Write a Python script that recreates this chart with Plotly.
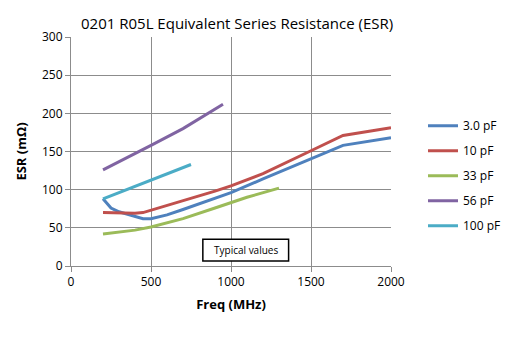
import plotly.graph_objects as go

title = "0201 R05L Equivalent Series Resistance (ESR)"
series_names = ["3.0 pF", "10 pF", "33 pF", "56 pF", "100 pF"]
colors = ["#4F81BD", "#C0504D", "#9BBB59", "#8064A2", "#4BACC6"]

f_3p0 = [200, 250, 300, 350, 400, 450, 500, 600, 700, 800, 900, 1000, 1200, 1400, 1500, 1700, 2000]
esr_3p0 = [88, 76, 71, 68, 65, 62, 62, 67, 74, 81, 88, 96, 114, 132, 141, 158, 168]

f_10 = [200, 400, 450, 500, 600, 700, 800, 900, 1000, 1200, 1500, 1700, 2000]
esr_10 = [70, 69, 70, 73, 79, 85, 91, 98, 105, 121, 151, 171, 181]

f_33 = [200, 400, 500, 700, 900, 1100, 1300]
esr_33 = [42, 47, 51, 62, 76, 90, 102]

f_56 = [200, 400, 500, 700, 950]
esr_56 = [126, 147, 158, 180, 212]

f_100 = [200, 400, 500, 750]
esr_100 = [88, 104, 112, 133]

xs = [f_3p0, f_10, f_33, f_56, f_100]
ys = [esr_3p0, esr_10, esr_33, esr_56, esr_100]

fig = go.Figure()
for name, c, x, y in zip(series_names, colors, xs, ys):
    fig.add_trace(go.Scatter(x=x, y=y, name=name, mode="lines",
                             line=dict(color=c, width=3), legendgroup=name))

font_family = "Open Sans, Liberation Sans, sans-serif"

fig.update_layout(
    width=520, height=341,
    margin=dict(l=71, r=129, t=37, b=75),
    paper_bgcolor="white", plot_bgcolor="white",
    font=dict(family=font_family, size=12, color="#000000"),
    title=dict(text=title, x=0.456, xanchor="center", y=0.93, yanchor="middle",
               font=dict(size=15, color="#000000")),
    showlegend=True,
    legend=dict(x=1.1, xanchor="left", y=0.676, yanchor="top",
                tracegroupgap=6, font=dict(size=12),
                bgcolor="rgba(0,0,0,0)"),
)
fig.update_xaxes(range=[0, 2000], dtick=500, showgrid=True, gridcolor="#8C8C8C", gridwidth=1,
                 showline=True, linecolor="#8C8C8C", ticks="outside", ticklen=5, tickcolor="#8C8C8C",
                 zeroline=False, mirror=False,
                 title=dict(text="<b>Freq (MHz)</b>", font=dict(size=13), standoff=10))
fig.update_yaxes(range=[0, 300], dtick=50, showgrid=True, gridcolor="#8C8C8C", gridwidth=1,
                 showline=True, linecolor="#8C8C8C", ticks="outside", ticklen=5, tickcolor="#8C8C8C",
                 zeroline=False,
                 title=dict(text="<b>ESR (mΩ)</b>", font=dict(size=13), standoff=12))

fig.add_shape(type="rect", xref="x", yref="y", x0=824, x1=1360, y0=6.6, y1=35,
              line=dict(color="black", width=1.5), fillcolor="white", layer="above")
fig.add_annotation(x=1092, y=21, xref="x", yref="y", text="Typical values",
                   showarrow=False, font=dict(size=10, color="black"))

fig.write_html("out.html")
